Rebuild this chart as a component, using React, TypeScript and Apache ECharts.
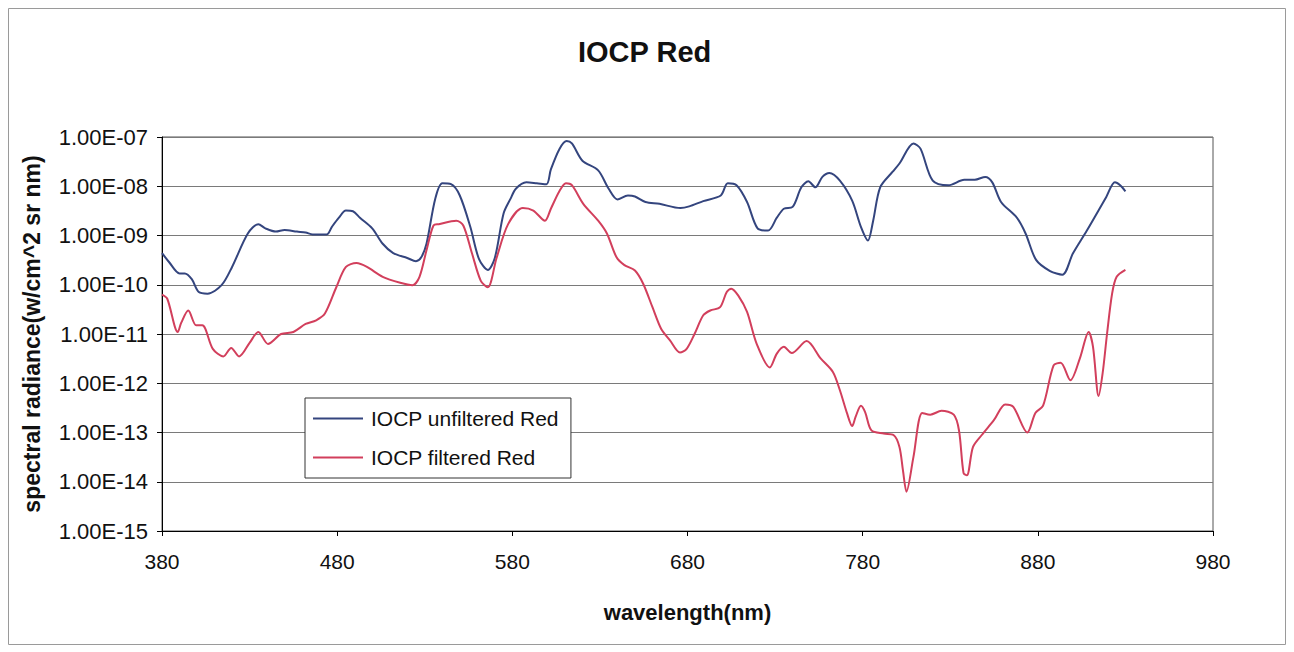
import React, { useEffect, useRef } from "react";
import * as echarts from "echarts";

const chartTitle = "IOCP Red";
const xAxisName = "wavelength(nm)";
const yAxisName = "spectral radiance(w/cm^2 sr nm)";
const seriesNames = ["IOCP unfiltered Red", "IOCP filtered Red"];
const xTicks = [380, 480, 580, 680, 780, 880, 980];
const yTickLabels: Record<string, string> = {
  "-7": "1.00E-07", "-8": "1.00E-08", "-9": "1.00E-09", "-10": "1.00E-10",
  "-11": "1.00E-11", "-12": "1.00E-12", "-13": "1.00E-13", "-14": "1.00E-14", "-15": "1.00E-15",
};

// [wavelength nm, spectral radiance]
const unfilteredRed: [number, number][] = [
  [380, 4.4e-10], [384, 2.9e-10], [390, 1.7e-10], [393, 1.7e-10], [397, 1.3e-10], [401, 7.1e-11],
  [406, 6.6e-11], [414, 9.8e-11], [420, 2.3e-10], [429, 1.1e-9], [435, 1.7e-9], [439, 1.4e-9],
  [445, 1.2e-9], [450, 1.3e-9], [457, 1.2e-9], [462, 1.15e-9], [466, 1.05e-9], [474, 1.05e-9],
  [477, 1.5e-9], [481, 2.3e-9], [485, 3.2e-9], [489, 3.1e-9], [493, 2.3e-9], [500, 1.4e-9],
  [506, 6.8e-10], [512, 4.4e-10], [520, 3.5e-10], [525, 3.0e-10], [528, 3.6e-10], [531, 6.8e-10],
  [536, 5.6e-9], [540, 1.15e-8], [545, 1.1e-8], [550, 6.5e-9], [556, 1.5e-9], [561, 3.3e-10],
  [566, 2.0e-10], [570, 3.5e-10], [575, 2.8e-9], [579, 5.6e-9], [582, 8.9e-9], [588, 1.2e-8],
  [594, 1.15e-8], [599.5, 1.1e-8], [602, 2.2e-8], [607, 5.8e-8], [611, 8.3e-8], [614, 7.4e-8],
  [620, 3.3e-8], [629, 2.1e-8], [635, 8.9e-9], [640, 5.4e-9], [646, 6.5e-9], [650, 6.2e-9],
  [656, 4.8e-9], [664, 4.4e-9], [676, 3.6e-9], [681, 3.9e-9], [689, 5.0e-9], [699, 6.5e-9],
  [703, 1.15e-8], [708, 1.05e-8], [714, 4.8e-9], [720, 1.4e-9], [726, 1.26e-9], [731, 2.3e-9],
  [735, 3.5e-9], [740, 3.8e-9], [745, 9.5e-9], [749, 1.26e-8], [753, 9.5e-9], [757, 1.55e-8],
  [761, 1.86e-8], [767, 1.3e-8], [774, 5.1e-9], [779, 1.5e-9], [783, 7.9e-10], [786, 2.0e-9],
  [790, 9.5e-9], [797, 1.95e-8], [801, 2.9e-8], [809, 7.4e-8], [813, 5.8e-8], [820, 1.3e-8],
  [829, 1.05e-8], [838, 1.35e-8], [844, 1.35e-8], [850, 1.55e-8], [854, 1.2e-8], [859, 4.8e-9],
  [868, 2.3e-9], [873, 1.1e-9], [879, 3.2e-10], [887, 1.9e-10], [894, 1.6e-10], [900, 4.3e-10],
  [908, 1.26e-9], [919, 6.0e-9], [924, 1.2e-8], [927, 1.05e-8], [930, 7.9e-9],
];

const filteredRed: [number, number][] = [
  [380, 6.3e-11], [383, 5.2e-11], [389, 1.1e-11], [391, 1.7e-11], [395, 3.0e-11], [399.5, 1.5e-11],
  [403, 1.5e-11], [409, 5.0e-12], [415, 3.5e-12], [419.5, 5.2e-12], [424, 3.5e-12], [430, 6.6e-12],
  [435, 1.1e-11], [440.5, 6.3e-12], [448, 1.0e-11], [455, 1.1e-11], [462, 1.6e-11], [468, 1.9e-11],
  [473, 2.6e-11], [479.5, 8.9e-11], [485, 2.3e-10], [491, 2.75e-10], [497, 2.3e-10], [506, 1.45e-10],
  [516, 1.1e-10], [523, 9.8e-11], [527, 1.45e-10], [531, 5.0e-10], [535, 1.6e-9], [538, 1.7e-9],
  [548, 2.0e-9], [552, 1.6e-9], [557, 4.3e-10], [562, 1.2e-10], [566, 8.9e-11], [571, 3.5e-10],
  [577.6, 1.7e-9], [586, 3.6e-9], [592, 3.2e-9], [598.6, 2.0e-9], [602, 3.5e-9], [607, 8.1e-9],
  [610.6, 1.15e-8], [614, 1.05e-8], [620.5, 4.4e-9], [629, 2.0e-9], [634, 1.1e-9], [639.5, 3.6e-10],
  [644, 2.5e-10], [650, 1.95e-10], [654.7, 1.05e-10], [660, 3.5e-11], [665, 1.26e-11], [670, 7.4e-12],
  [675.7, 4.2e-12], [679.5, 5.0e-12], [684, 1.0e-11], [689, 2.4e-11], [693, 3.0e-11], [698.6, 3.5e-11],
  [702.4, 7.1e-11], [705, 8.3e-11], [709, 6.0e-11], [714, 2.8e-11], [719.5, 6.3e-12], [727, 2.1e-12],
  [731, 4.0e-12], [735, 5.5e-12], [739.5, 4.1e-12], [748, 7.2e-12], [756, 3.2e-12], [763, 1.7e-12],
  [767, 7.2e-13], [771, 2.5e-13], [774, 1.35e-13], [776, 2.1e-13], [779, 3.5e-13], [781.4, 2.6e-13],
  [785, 1.1e-13], [792, 9.5e-14], [797.6, 8.9e-14], [801, 5.1e-14], [803, 1.7e-14], [805, 6.3e-15],
  [809, 3.2e-14], [814, 2.5e-13], [818.6, 2.3e-13], [825, 2.75e-13], [832, 2.3e-13], [835, 1.1e-13],
  [837.6, 1.5e-14], [839.5, 1.35e-14], [843, 5.1e-14], [848, 8.9e-14], [855, 1.8e-13], [861.4, 3.7e-13],
  [866, 3.3e-13], [874, 1.0e-13], [878.6, 2.5e-13], [883, 3.5e-13], [889, 2.3e-12], [893, 2.6e-12],
  [898.6, 1.15e-12], [904, 3.2e-12], [909, 1.1e-11], [911.5, 5.5e-12], [914.7, 5.5e-13], [917, 1.6e-12],
  [919.5, 1.0e-11], [922.4, 6.6e-11], [925, 1.45e-10], [930, 2.0e-10],
];

const FONT = 'Arial, "Liberation Sans", sans-serif';

export default function App() {
  const ref = useRef<HTMLDivElement>(null);
  useEffect(() => {
    if (!ref.current) return;
    const chart = echarts.init(ref.current, undefined, { renderer: "svg" });
    chart.setOption({
      animation: false,
      backgroundColor: "#ffffff",
      title: {
        text: chartTitle,
        left: 578,
        top: 37,
        padding: 0,
        textStyle: { fontFamily: FONT, fontSize: 29, fontWeight: "bold", color: "#111" },
      },
      legend: {
        orient: "vertical",
        left: 305,
        top: 398,
        padding: [10, 12, 10, 8],
        itemGap: 18,
        itemWidth: 50,
        itemHeight: 2,
        icon: "rect",
        backgroundColor: "#ffffff",
        borderColor: "#333",
        borderWidth: 1,
        borderRadius: 0,
        textStyle: { fontFamily: FONT, fontSize: 21, color: "#111", padding: [0, 0, 0, 3] },
        data: seriesNames,
      },
      graphic: [
        {
          type: "rect",
          shape: { x: 8.5, y: 8.5, width: 1277, height: 636 },
          style: { fill: "none", stroke: "#9a9a9a", lineWidth: 1 },
          silent: true,
        },
      ],
      grid: {
        left: 162,
        right: 81,
        top: 137,
        bottom: 121,
        show: true,
        borderColor: "#555",
        borderWidth: 1,
        backgroundColor: "transparent",
        containLabel: false,
      },
      xAxis: {
        type: "value",
        min: xTicks[0],
        max: xTicks[xTicks.length - 1],
        interval: 100,
        name: xAxisName,
        nameLocation: "middle",
        nameGap: 70,
        nameTextStyle: { fontFamily: FONT, fontSize: 22, fontWeight: "bold", color: "#111" },
        axisLine: { show: true, lineStyle: { color: "#000", width: 1 } },
        axisTick: { show: true, length: 5, lineStyle: { color: "#000" } },
        axisLabel: { fontFamily: FONT, fontSize: 21, color: "#111", margin: 20 },
        splitLine: { show: false },
      },
      yAxis: {
        type: "log",
        logBase: 10,
        min: 1e-15,
        max: 1e-7,
        splitNumber: 8,
        name: yAxisName,
        nameLocation: "middle",
        nameGap: 119,
        nameTextStyle: { fontFamily: FONT, fontSize: 23, fontWeight: "bold", color: "#111" },
        axisLine: { show: true, lineStyle: { color: "#000", width: 1 } },
        axisTick: { show: true, length: 5, lineStyle: { color: "#000" } },
        axisLabel: {
          fontFamily: FONT,
          fontSize: 22,
          color: "#111",
          margin: 14,
          formatter: (v: number) => yTickLabels[String(Math.round(Math.log10(v)))] ?? "",
        },
        splitLine: { show: true, lineStyle: { color: "#7a7a7a", width: 1 } },
      },
      series: [
        {
          name: seriesNames[0],
          type: "line",
          data: unfilteredRed,
          smooth: 0.3,
          showSymbol: false,
          lineStyle: { color: "#34457e", width: 2 },
          itemStyle: { color: "#34457e" },
        },
        {
          name: seriesNames[1],
          type: "line",
          data: filteredRed,
          smooth: 0.3,
          showSymbol: false,
          lineStyle: { color: "#d23f5c", width: 2 },
          itemStyle: { color: "#d23f5c" },
        },
      ],
    });
    return () => chart.dispose();
  }, []);
  return (
    <div
      ref={ref}
      style={{ position: "fixed", left: 0, top: 0, width: 1294, height: 652, background: "#fff" }}
    />
  );
}
